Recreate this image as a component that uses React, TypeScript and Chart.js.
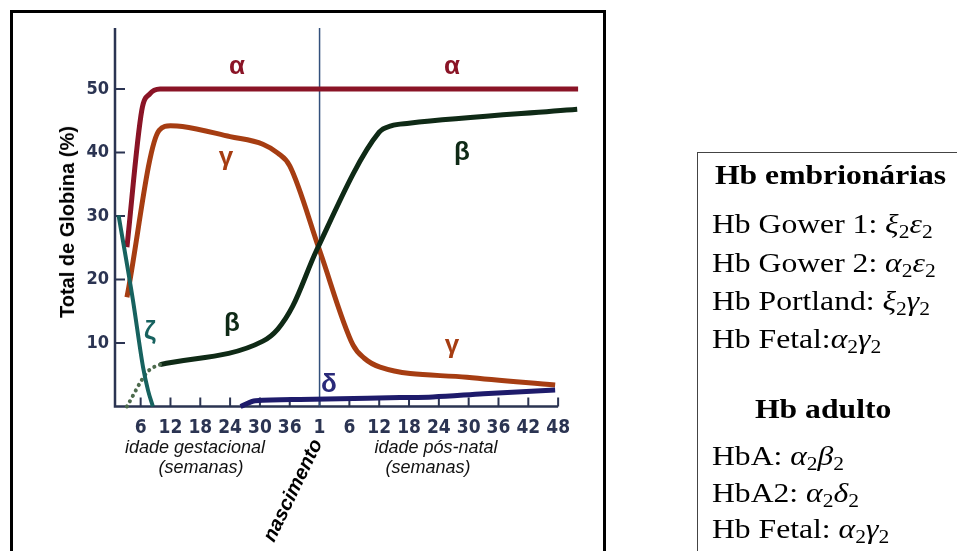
import React, { useEffect, useRef } from "react";
import { Chart, registerables } from "chart.js";

Chart.register(...registerables);

// ---- axis ticks ----
const tickPositions = [1, 2, 3, 4, 5, 6, 7, 8, 9, 10, 11, 12, 13, 14, 15];
const tickLabels = ["6", "12", "18", "24", "30", "36", "1", "6", "12", "18", "24", "30", "36", "42", "48"];
const yTickValues = [10, 20, 30, 40, 50];
const birthPosition = 7;
const axisEndX = 15;
const axisTopY = 59.6;

// ---- series (x = tick position, y = % of total globin) ----
const alphaX = [0.54, 1.04, 1.3, 1.65, 15.67];
const alphaY = [25.1, 46.7, 49.2, 50, 50];

const gammaX = [0.54, 1.62, 2.0, 2.4, 4.0, 5.1, 5.6, 6.0, 7.0, 8.12, 8.5, 9.03, 11.94, 14.9];
const gammaY = [17.2, 43.5, 44.2, 44.1, 42.5, 41.3, 39.9, 37.9, 24.6, 9.7, 7.6, 6.2, 4.6, 3.4];

const betaDotX = [0.54, 1.2, 1.4, 1.65];
const betaDotY = [0, 5.3, 6.1, 6.6];

const betaX = [1.65, 5.1, 5.6, 6.1, 6.9, 9.0, 9.4, 10.0, 15.64];
const betaY = [6.6, 10.3, 12.2, 15.8, 24.6, 43.2, 44.2, 44.6, 46.8];

const zetaX = [0.26, 0.74, 1.08, 1.25, 1.41];
const zetaY = [30.1, 16.8, 6.2, 2.5, 0];

const deltaX = [4.35, 4.85, 6.35, 9.7, 10.8, 12.5, 14.9];
const deltaY = [0, 0.9, 1.1, 1.4, 1.5, 2.0, 2.6];

const zip = (xs: number[], ys: number[]) => xs.map((x, i) => ({ x, y: ys[i] }));

const AXIS_COLOR = "#2b3452";
const TICK_FONT = "'Liberation Sans Narrow', 'DejaVu Sans Condensed', 'Arial Narrow', sans-serif";

const axesPlugin = {
  id: "handAxes",
  beforeDatasetsDraw(chart: any) {
    const { ctx, scales } = chart;
    const xs = scales.x;
    const ys = scales.y;
    const x0 = xs.getPixelForValue(xs.min);
    const y0 = ys.getPixelForValue(0);
    const yTop = ys.getPixelForValue(axisTopY);
    const xEnd = xs.getPixelForValue(axisEndX);
    ctx.save();
    ctx.strokeStyle = AXIS_COLOR;
    ctx.lineWidth = 2.5;
    ctx.beginPath();
    ctx.moveTo(x0, yTop);
    ctx.lineTo(x0, y0);
    ctx.lineTo(xEnd, y0);
    ctx.stroke();
    ctx.lineWidth = 2;
    ctx.beginPath();
    tickPositions.forEach((p) => {
      const px = xs.getPixelForValue(p);
      ctx.moveTo(px, y0);
      ctx.lineTo(px, y0 - 9);
    });
    yTickValues.forEach((v) => {
      const py = ys.getPixelForValue(v);
      ctx.moveTo(x0, py);
      ctx.lineTo(x0 + 10, py);
    });
    ctx.stroke();
    // birth line
    const bx = xs.getPixelForValue(birthPosition);
    ctx.strokeStyle = "#33507c";
    ctx.lineWidth = 1.5;
    ctx.beginPath();
    ctx.moveTo(bx, yTop);
    ctx.lineTo(bx, y0);
    ctx.stroke();
    ctx.restore();
  },
};

function ChartCanvas() {
  const ref = useRef<HTMLCanvasElement | null>(null);
  useEffect(() => {
    if (!ref.current) return;
    const common = { pointRadius: 0, cubicInterpolationMode: "monotone" as const, clip: 12, fill: false };
    const chart = new Chart(ref.current, {
      type: "line",
      data: {
        datasets: [
          { ...common, label: "δ", data: zip(deltaX, deltaY), borderColor: "#1e1b6b", borderWidth: 5 },
          { ...common, label: "ζ", data: zip(zetaX, zetaY), borderColor: "#17625f", borderWidth: 4 },
          {
            ...common,
            label: "β (dotted)",
            data: zip(betaDotX, betaDotY),
            borderColor: "#4d6b4d",
            borderWidth: 4,
            borderDash: [0.1, 6],
            borderCapStyle: "round",
          },
          { ...common, label: "β", data: zip(betaX, betaY), borderColor: "#0f2a16", borderWidth: 5 },
          { ...common, label: "γ", data: zip(gammaX, gammaY), borderColor: "#a63d12", borderWidth: 5 },
          { ...common, label: "α", data: zip(alphaX, alphaY), borderColor: "#8a1426", borderWidth: 5 },
        ] as any,
      },
      options: {
        responsive: false,
        animation: false,
        layout: { padding: { left: 75, right: 378, top: 25.5, bottom: 104.5 } },
        plugins: { legend: { display: false }, tooltip: { enabled: false } },
        scales: {
          x: {
            type: "linear",
            min: 0.14,
            max: 15.7,
            grid: { display: false, drawTicks: false },
            border: { display: false },
            afterBuildTicks: (s: any) => {
              s.ticks = tickPositions.map((v) => ({ value: v }));
            },
            afterFit: (s: any) => {
              s.height = 40;
            },
            ticks: {
              autoSkip: false,
              maxRotation: 0,
              padding: 10,
              color: AXIS_COLOR,
              font: { family: TICK_FONT, size: 19, weight: "bold" },
              callback: (_v: any, i: number) => tickLabels[i],
            },
          },
          y: {
            type: "linear",
            min: 0,
            max: 60,
            grid: { display: false, drawTicks: false },
            border: { display: false },
            afterBuildTicks: (s: any) => {
              s.ticks = yTickValues.map((v) => ({ value: v }));
            },
            afterFit: (s: any) => {
              s.width = 40;
            },
            ticks: {
              padding: 6,
              color: AXIS_COLOR,
              font: { family: TICK_FONT, size: 18, weight: "bold" },
            },
          },
        },
      } as any,
      plugins: [axesPlugin],
    });
    return () => chart.destroy();
  }, []);
  return (
    <canvas
      ref={ref}
      width={957}
      height={551}
      style={{ position: "absolute", left: 0, top: 0, width: 957, height: 551 }}
    />
  );
}

const abs = (extra: React.CSSProperties): React.CSSProperties => ({
  position: "absolute",
  whiteSpace: "nowrap",
  lineHeight: 1,
  ...extra,
});

const greek = (text: string, cx: number, top: number, color: string) => (
  <div
    style={abs({
      left: cx,
      top,
      transform: "translateX(-50%)",
      fontFamily: "'Liberation Sans', Arial, sans-serif",
      fontWeight: "bold",
      fontSize: 26,
      color,
    })}
  >
    {text}
  </div>
);

const SERIF = "'Liberation Serif', 'Times New Roman', serif";
const Sub = () => (
  <sub style={{ fontSize: "0.68em", verticalAlign: "-0.28em", lineHeight: 0 }}>2</sub>
);
const G = ({ c }: { c: string }) => <i>{c}</i>;

const tableLine = (top: number, left: number, content: React.ReactNode, bold = false) => (
  <div
    style={abs({
      left,
      top,
      fontFamily: SERIF,
      fontSize: 28,
      fontWeight: bold ? "bold" : "normal",
      color: "#000",
      transform: "scaleX(1.13)",
      transformOrigin: "left top",
    })}
  >
    {content}
  </div>
);

export default function App() {
  const italic: React.CSSProperties = {
    fontFamily: "'Liberation Sans', Arial, sans-serif",
    fontStyle: "italic",
    fontSize: 18,
    color: "#111",
    transform: "translateX(-50%)",
  };
  return (
    <div style={{ position: "absolute", left: 0, top: 0, width: 957, height: 551, overflow: "hidden", background: "#fff" }}>
      {/* left frame */}
      <div
        style={{
          position: "absolute",
          left: 9.5,
          top: 10,
          width: 590,
          height: 600,
          border: "3px solid #000",
        }}
      />
      <ChartCanvas />
      {/* y-axis title */}
      <div
        style={abs({
          left: 67,
          top: 222,
          transform: "translate(-50%, -50%) rotate(-90deg)",
          fontFamily: "'Liberation Sans', Arial, sans-serif",
          fontWeight: "bold",
          fontSize: 20,
          color: "#000",
        })}
      >
        Total de Globina (%)
      </div>
      {/* x-axis captions */}
      <div style={abs({ ...italic, left: 195, top: 438 })}>idade gestacional</div>
      <div style={abs({ ...italic, left: 201, top: 458 })}>(semanas)</div>
      <div style={abs({ ...italic, left: 436, top: 438 })}>idade pós-natal</div>
      <div style={abs({ ...italic, left: 428, top: 458 })}>(semanas)</div>
      <div
        style={abs({
          left: 292,
          top: 490,
          transform: "translate(-50%, -50%) rotate(-64deg)",
          fontFamily: "'Liberation Sans', Arial, sans-serif",
          fontWeight: "bold",
          fontStyle: "italic",
          fontSize: 20,
          color: "#000",
        })}
      >
        nascimento
      </div>
      {/* curve labels */}
      {greek("α", 237, 52, "#8a1426")}
      {greek("α", 452, 52, "#8a1426")}
      {greek("γ", 226, 143, "#a63d12")}
      {greek("γ", 452, 331, "#a63d12")}
      {greek("β", 232, 309, "#0f2a16")}
      {greek("β", 462, 138, "#0f2a16")}
      {greek("ζ", 150, 317, "#17625f")}
      {greek("δ", 329, 370, "#2a2a7a")}
      {/* right table */}
      <div
        style={{
          position: "absolute",
          left: 697,
          top: 152,
          width: 300,
          height: 450,
          border: "1.5px solid #444",
        }}
      />
      {tableLine(160.5, 715, "Hb embrionárias", true)}
      {tableLine(209.5, 712, <>Hb Gower 1: <G c="ξ" /><Sub /><G c="ε" /><Sub /></>)}
      {tableLine(248.5, 712, <>Hb Gower 2: <G c="α" /><Sub /><G c="ε" /><Sub /></>)}
      {tableLine(286.5, 712, <>Hb Portland: <G c="ξ" /><Sub /><G c="γ" /><Sub /></>)}
      {tableLine(324.5, 712, <>Hb Fetal:<G c="α" /><Sub /><G c="γ" /><Sub /></>)}
      {tableLine(394.5, 755, "Hb adulto", true)}
      {tableLine(441.5, 712, <>HbA: <G c="α" /><Sub /><G c="β" /><Sub /></>)}
      {tableLine(478.5, 712, <>HbA2: <G c="α" /><Sub /><G c="δ" /><Sub /></>)}
      {tableLine(514.5, 712, <>Hb Fetal: <G c="α" /><Sub /><G c="γ" /><Sub /></>)}
    </div>
  );
}
